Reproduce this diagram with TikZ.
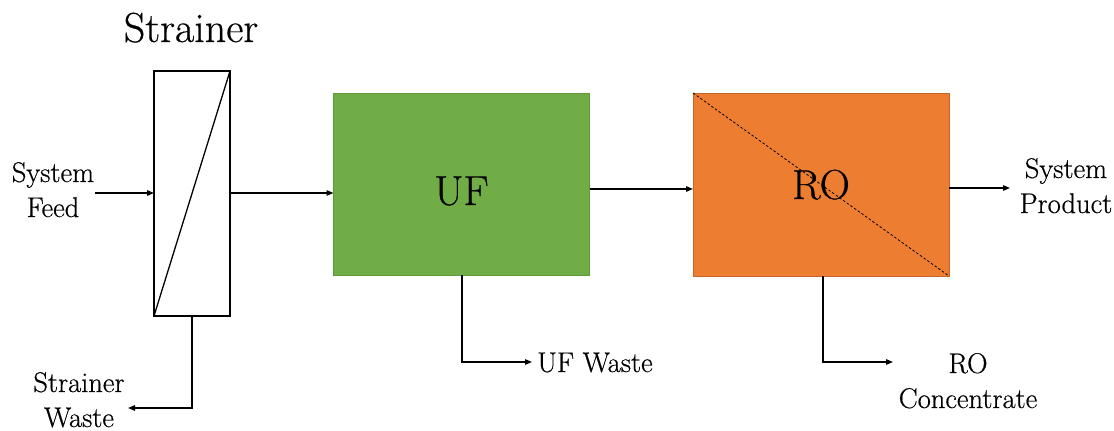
\documentclass[tikz,border=0pt]{standalone}
\usepackage{fontspec}
\setmainfont{Latin Modern Roman}[FakeBold=0.5]
\usetikzlibrary{arrows.meta}
\definecolor{ufgreen}{HTML}{70AD47}
\definecolor{ufedge}{HTML}{5E9A38}
\definecolor{roorange}{HTML}{ED7D31}
\definecolor{roedge}{HTML}{C8662A}
\begin{document}
\begin{tikzpicture}[x=1pt,y=-1pt,
  arr/.style={line width=1.3pt,-{Triangle[length=7pt,width=5.5pt]}},
  plain/.style={line width=1.3pt},
  lbl/.style={font=\fontsize{28.5}{35}\selectfont,align=center,inner sep=0pt,anchor=base},
  big/.style={font=\fontsize{42}{48}\selectfont,inner sep=0pt,anchor=base},
  unit/.style={rectangle,inner sep=0pt,outer sep=0pt}]
\useasboundingbox (0,0) rectangle (1114,431);
% units
\node[unit,draw=black,line width=2.2pt,minimum width=76pt,minimum height=245pt] (strainer) at (192,193.5) {};
\draw[plain] (strainer.south west) -- (strainer.north east);
\node[unit,fill=ufgreen,draw=ufedge,line width=0.8pt,minimum width=256pt,minimum height=182pt] (uf) at (461.5,184) {};
\node[unit,fill=roorange,draw=roedge,line width=0.8pt,minimum width=256pt,minimum height=183pt] (ro) at (821,184.5) {};
\draw[line width=0.8pt,dash pattern=on 2.5pt off 2pt] (ro.north west) -- (ro.south east);
% labels
\node[big] (ttl) at (191,42) {Strainer};
\node[big] (uft) at (461.5,205) {UF};
\node[big] (rot) at (821,199) {RO};
\node[lbl] (feed) at (53,217) {System\\Feed};
\node[lbl] (swaste) at (79,427) {Strainer\\Waste};
\node[lbl] (prod) at (1066,213) {System\\Product};
\node[lbl,anchor=base west] (ufw) at (537,372) {UF Waste};
\node[lbl] (roc) at (968,408) {RO\\Concentrate};
% connector points
\coordinate (fin) at (95,193);
\coordinate (y189) at (0,189);
\coordinate (pout) at (1010,188);
\coordinate (sw1) at (192,408);
\coordinate (sw2) at (128,408);
\coordinate (ufd) at (462,362);
\coordinate (ufe) at (532,362);
\coordinate (rod) at (823,362);
\coordinate (roe) at (893,362);
% connectors
\draw[arr] (fin) -- (strainer.west |- fin);
\draw[arr] (strainer.east |- fin) -- (uf.west |- fin);
\draw[arr] (uf.east |- y189) -- (ro.west |- y189);
\draw[arr] (ro.east |- pout) -- (pout);
\draw[arr] (strainer.south) -- (sw1) -- (sw2);
\draw[arr] (ufd |- uf.south) -- (ufd) -- (ufe);
\draw[arr] (rod |- ro.south) -- (rod) -- (roe);
\end{tikzpicture}
\end{document}
